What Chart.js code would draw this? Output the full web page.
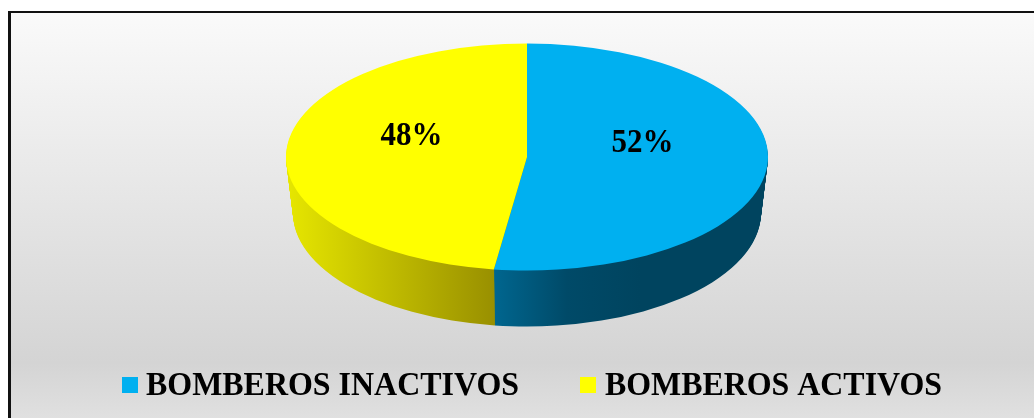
<!DOCTYPE html>
<html>
<head>
<meta charset="utf-8">
<title>Bomberos</title>
<script src="https://cdn.jsdelivr.net/npm/chart.js@4"></script>
<style>
html, body { margin: 0; padding: 0; background: #fff; }
canvas { display: block; }
</style>
</head>
<body>
<canvas id="chart" width="1034" height="418"></canvas>
<script>
// Données
const labels = ['BOMBEROS INACTIVOS', 'BOMBEROS ACTIVOS'];
const values = [52.2, 47.8];
const colors = ['#00B0F0', '#FFFF00'];
const sideColors = [
  [[0, '#00668f'], [0.5, '#004a68'], [1, '#00445f']],
  [[0, '#e6e600'], [1, '#999000']]
];
// bornes en x (pixels) des dégradés du côté
const sideRanges = [[494, 640], [288, 494]];

const font = 'bold 33px "Liberation Serif"';

// Géométrie du disque en perspective
const disc = { x: 527, y: 157, rx: 241, ry: 113.5, depth: 56, rxBottom: 234 };

function applyDisc(ctx, arc, k) {
  const rx = disc.rx + (disc.rxBottom - disc.rx) * k / disc.depth;
  ctx.translate(disc.x, disc.y + k);
  ctx.scale(rx / arc.outerRadius, disc.ry / arc.outerRadius);
  ctx.translate(-arc.x, -arc.y);
  return rx;
}

const panelPlugin = {
  id: 'panel',
  beforeDraw(chart) {
    const ctx = chart.ctx;
    const g = ctx.createLinearGradient(0, 13, 0, 418);
    g.addColorStop(0, '#fafafa');
    g.addColorStop(0.864, '#d4d4d4');
    g.addColorStop(1, '#e0e0e0');
    ctx.save();
    ctx.fillStyle = '#fff';
    ctx.fillRect(0, 0, 1034, 418);
    ctx.fillStyle = g;
    ctx.fillRect(11, 13, 1023, 405);
    ctx.fillStyle = '#111';
    ctx.fillRect(8, 11, 1026, 2);
    ctx.fillRect(8, 11, 3, 407);
    ctx.restore();
  }
};

const discPlugin = {
  id: 'disc',
  beforeDatasetDraw(chart, args) {
    const ctx = chart.ctx;
    const arcs = args.meta.data;
    // côté du disque : les mêmes arcs, redessinés vers le bas
    for (let k = disc.depth; k > 0; k--) {
      arcs.forEach((arc, i) => {
        ctx.save();
        const rx = applyDisc(ctx, arc, k);
        const sx = rx / arc.outerRadius;
        const x0 = arc.x + (sideRanges[i][0] - disc.x) / sx;
        const x1 = arc.x + (sideRanges[i][1] - disc.x) / sx;
        const g = ctx.createLinearGradient(x0, 0, x1, 0);
        sideColors[i].forEach(s => g.addColorStop(s[0], s[1]));
        const options = arc.options;
        arc.options = Object.assign({}, options, { backgroundColor: g, borderWidth: 0 });
        arc.draw(ctx);
        arc.options = options;
        ctx.restore();
      });
    }
    ctx.save();
    applyDisc(ctx, arcs[0], 0);
  },
  afterDatasetDraw(chart) {
    chart.ctx.restore();
  },
  afterDraw(chart) {
    const ctx = chart.ctx;
    const arcs = chart.getDatasetMeta(0).data;
    ctx.save();
    ctx.font = font;
    ctx.fillStyle = '#000';
    ctx.textBaseline = 'alphabetic';
    ctx.textAlign = 'center';
    // pourcentages
    arcs.forEach((arc, i) => {
      const a = (arc.startAngle + arc.endAngle) / 2;
      const x = disc.x + Math.cos(a) * disc.rx * 0.48;
      const y = disc.y + Math.sin(a) * disc.ry * 0.48 - 8.5;
      ctx.fillText(Math.round(values[i]) + '%', x, y, 62);
    });
    // légende
    const boxX = [122, 580];
    const textWidths = [373, 337];
    ctx.textAlign = 'left';
    labels.forEach((label, i) => {
      ctx.fillStyle = colors[i];
      ctx.fillRect(boxX[i], 377, 16, 16);
      ctx.fillStyle = '#000';
      ctx.fillText(label, boxX[i] + 24 + i, 395, textWidths[i]);
    });
    ctx.restore();
  }
};

new Chart(document.getElementById('chart').getContext('2d'), {
  type: 'pie',
  data: {
    labels: labels,
    datasets: [{
      data: values,
      backgroundColor: colors,
      borderWidth: 0,
      clip: false
    }]
  },
  options: {
    responsive: false,
    devicePixelRatio: 1,
    animation: false,
    plugins: {
      legend: { display: false },
      tooltip: { enabled: false }
    }
  },
  plugins: [panelPlugin, discPlugin]
});
</script>
</body>
</html>
